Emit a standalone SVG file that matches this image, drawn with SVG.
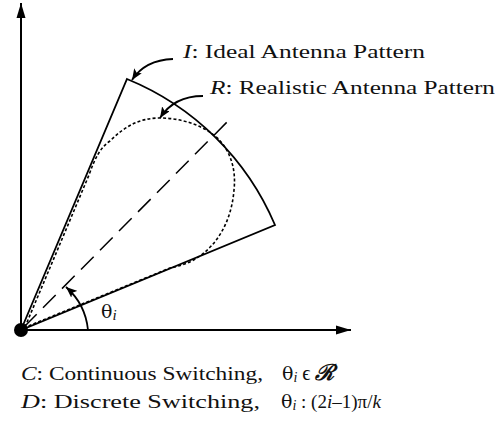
<svg xmlns="http://www.w3.org/2000/svg" width="504" height="428" viewBox="0 0 504 428">
<defs>
<marker id="axhead" markerWidth="16" markerHeight="10" refX="15" refY="5" orient="auto" markerUnits="userSpaceOnUse">
<path d="M0,0.5 L15,5 L0,9.5 Z" fill="#000"/>
</marker>
<marker id="lead" markerWidth="12" markerHeight="9" refX="11" refY="4.5" orient="auto" markerUnits="userSpaceOnUse">
<path d="M0,0 L11,4.5 L0,9 L2.5,4.5 Z" fill="#000"/>
</marker>
</defs>
<style>
.ln{fill:none;stroke:#000;stroke-width:1.8}
.ax{fill:none;stroke:#000;stroke-width:2}
.dash{fill:none;stroke:#000;stroke-width:1.5;stroke-dasharray:18 9}
.dot{fill:none;stroke:#000;stroke-width:1.6;stroke-dasharray:3 2.2}
.t{font-family:"Liberation Serif","Times New Roman",serif;font-size:19px;fill:#111}
.it{font-style:italic}
.th{font-family:"DejaVu Serif","Liberation Serif",serif;font-size:19px}
</style>
<g id="axes">
<line class="ax" x1="21" y1="330" x2="21" y2="3" marker-end="url(#axhead)"/>
<line class="ax" x1="21" y1="330" x2="351" y2="330" marker-end="url(#axhead)"/>
<circle cx="21" cy="330" r="7" fill="#000"/>
</g>
<g id="ideal-pattern">
<path class="ln" d="M21,330 L127,79 A273,273 0 0 1 275,225 Z"/>
</g>
<g id="bisector">
<line class="dash" x1="24" y1="327" x2="230" y2="119"/>
</g>
<g id="realistic-pattern">
<path class="dot" d="M25,327 L89,175 C95,158 100,148 110,141 C125,126 140,118 160,118 C185,118 210,128 222,143 C232,156 236,172 234,190 C232,215 222,240 200,256 C190,263 180,266 170,268 L26,327"/>
</g>
<g id="connectors">
<path class="ln" d="M173,59 Q145,60 132,80" stroke-width="1.6" marker-end="url(#lead)"/>
<path class="ln" d="M203,96 Q174,96 160,118" stroke-width="1.6" marker-end="url(#lead)"/>
<path class="ln" d="M88,330 A66,66 0 0 0 66,287" stroke-width="1.6" marker-end="url(#lead)"/>
</g>
<g id="label-I">
<text class="t" x="183" y="58" textLength="242" lengthAdjust="spacingAndGlyphs"><tspan class="it">I</tspan>: Ideal Antenna Pattern</text>
</g>
<g id="label-R">
<text class="t" x="210" y="94" textLength="285" lengthAdjust="spacingAndGlyphs"><tspan class="it">R</tspan>: Realistic Antenna Pattern</text>
</g>
<g id="label-theta">
<text class="t" x="101" y="318"><tspan class="th" font-size="21">θ</tspan><tspan class="it" font-size="15" dy="2">i</tspan></text>
</g>
<g id="legend">
<text class="t" x="21" y="380" textLength="242" lengthAdjust="spacingAndGlyphs"><tspan class="it">C</tspan>: Continuous Switching,</text>
<text class="t" x="282" y="380"><tspan class="th">θ</tspan><tspan class="it" font-size="14" dy="2">i</tspan><tspan dy="-2" font-size="20"> ϵ </tspan><tspan font-weight="bold" font-style="italic" font-size="22">ℛ</tspan></text>
<text class="t" x="21" y="408" textLength="239" lengthAdjust="spacingAndGlyphs"><tspan class="it">D</tspan>: Discrete Switching,</text>
<text class="t" x="281" y="408"><tspan class="th">θ</tspan><tspan class="it" font-size="14" dy="2">i</tspan><tspan dy="-2"> : (2</tspan><tspan class="it">i</tspan>–1)π/<tspan class="it">k</tspan></text>
</g>
</svg>
